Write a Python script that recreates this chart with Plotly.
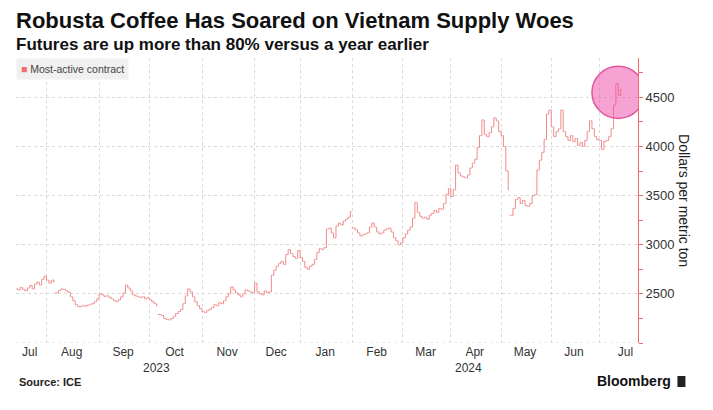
import pandas as pd
import plotly.graph_objects as go

# ---------------- text ----------------
title = "Robusta Coffee Has Soared on Vietnam Supply Woes"
subtitle = "Futures are up more than 80% versus a year earlier"
series_name = "Most-active contract"
y_title = "Dollars per metric ton"
source_text = "Source: ICE"
brand_text = "Bloomberg"

# ---------------- calendar ----------------
holidays = ["2023-08-28", "2023-12-25", "2023-12-26", "2024-01-01",
            "2024-03-29", "2024-04-01", "2024-05-06", "2024-05-27"]
start_date = "2023-07-13"
end_date = "2024-07-12"
calendar_end = "2024-07-31"

# ---------------- daily closes (USD / metric ton) ----------------
close_jul23 = [2550, 2540, 2565, 2545, 2530, 2560, 2585, 2550, 2600, 2620, 2590, 2650, 2680]
close_aug23 = [2640, 2610, 2640, 2620, 2510, 2535, 2550, 2545, 2530, 2515, 2470, 2430,
               2390, 2370, 2370, 2380, 2375, 2385, 2395, 2400, 2420, 2450]
close_sep23 = [2500, 2490, 2475, 2480, 2465, 2450, 2430, 2420, 2440, 2470, 2510, 2590,
               2560, 2530, 2490, 2480, 2470, 2465, 2470, 2450, 2460]
close_oct23 = [2440, 2420, 2400, 2380, 2290, 2280, 2250, 2240, 2235, 2250, 2270, 2300,
               2320, 2340, 2400, 2480, 2550, 2520, 2470, 2420, 2380, 2350]
close_nov23 = [2320, 2310, 2330, 2345, 2360, 2390, 2380, 2410, 2400, 2430, 2470, 2500,
               2570, 2540, 2510, 2490, 2470, 2500, 2540, 2530, 2520, 2510]
close_dec23 = [2610, 2520, 2500, 2490, 2530, 2510, 2520, 2690, 2740, 2780, 2810, 2830,
               2800, 2900, 2950, 2910, 2880, 2860, 2940]
close_jan24 = [2870, 2830, 2770, 2750, 2780, 2800, 2850, 2920, 2960, 2950, 2970, 3160,
               3170, 3120, 3070, 3190, 3220, 3200, 3240, 3260, 3280, 3340]
close_feb24 = [3170, 3150, 3120, 3090, 3100, 3110, 3120, 3180, 3220, 3180, 3130, 3110,
               3120, 3150, 3160, 3170, 3130, 3070, 3040, 3000, 3020]
close_mar24 = [3070, 3110, 3150, 3180, 3270, 3430, 3330, 3290, 3270, 3280, 3260, 3300,
               3320, 3350, 3330, 3370, 3360, 3420, 3510, 3570]
close_apr24 = [3490, 3560, 3810, 3730, 3700, 3690, 3680, 3710, 3780, 3830, 3870, 3990,
               4110, 4270, 4120, 4100, 4140, 4200, 4290, 4260, 4150]
close_may24 = [4110, 4000, 3750, 3560, 3300, 3370, 3460, 3480, 3420, 3450, 3400, 3390,
               3420, 3500, 3510, 3760, 3860, 3940, 4070, 4330, 4370]
close_jun24 = [4200, 4100, 4150, 4180, 4370, 4150, 4100, 4060, 4110, 4050, 4080, 4010,
               4040, 4000, 4060, 4150, 4260, 4180, 4100, 4070]
close_jul24 = [4060, 3970, 4050, 4060, 4100, 4180, 4420, 4640, 4520, 4580]

# first sessions after a switch of the most-active contract
roll_days = ["2023-08-07", "2023-10-06", "2024-02-01", "2024-05-08"]

# ---------------- axis values ----------------
y_ticks = [2000, 2500, 3000, 3500, 4000, 4500]
y_ticktext = ["", "2500", "3000", "3500", "4000", "4500"]
y_minor_ticks = [2250, 2750, 3250, 3750, 4250, 4750]
y_range = [2000, 4900]
month_abbr = ["Jan", "Feb", "Mar", "Apr", "May", "Jun",
              "Jul", "Aug", "Sep", "Oct", "Nov", "Dec"]

# ---------------- style ----------------
bar_color = "#f08a8a"
axis_red = "#f06a6a"
grid_color = "#dadada"
text_color = "#333333"
font_family = "Liberation Sans, Arial, sans-serif"
axis_pad_sessions = 7
highlight_radius_sessions = 11
highlight_radius_value = 265

# ---------------- build data ----------------
closes = (close_jul23 + close_aug23 + close_sep23 + close_oct23 + close_nov23 +
          close_dec23 + close_jan24 + close_feb24 + close_mar24 + close_apr24 +
          close_may24 + close_jun24 + close_jul24)
dates = pd.bdate_range(start_date, end_date, freq="C", holidays=holidays)
assert len(dates) == len(closes), (len(dates), len(closes))

roll_set = set(pd.to_datetime(roll_days))
opens = []
for k, (d, c) in enumerate(zip(dates, closes)):
    if k == 0 or d in roll_set:
        opens.append(c)
    else:
        opens.append(closes[k - 1])
highs = [max(o, c) for o, c in zip(opens, closes)]
lows = [min(o, c) for o, c in zip(opens, closes)]

cal = pd.bdate_range("2023-07-01", calendar_end, freq="C", holidays=holidays)
cal_list = list(cal)
i_first = cal_list.index(dates[0])
i_last = cal_list.index(dates[-1])
i_end = i_last + axis_pad_sessions
x_start = dates[0] + pd.Timedelta(hours=6)
x_end = cal_list[i_end] + pd.Timedelta(hours=6)


def pos_to_date(p):
    base = int(p)
    frac = p - base
    return cal_list[base] + pd.Timedelta(hours=24 * frac)


# month tick labels (centred in each month's sessions) and month-start grid lines
tick_vals, tick_text, month_starts = [], [], []
periods = sorted(set((d.year, d.month) for d in cal_list))
for (yr, mo) in periods:
    idx = [k for k, d in enumerate(cal_list) if d.year == yr and d.month == mo]
    visible = [k for k in idx if k >= i_first]
    if not visible:
        continue
    use = visible if idx[0] < i_first else idx
    tick_vals.append(pos_to_date(sum(use) / len(use)))
    tick_text.append(month_abbr[mo - 1])
    if idx[0] > i_first:
        month_starts.append(cal_list[idx[0]])

# year labels centred under each year's visible span
year_labels = []
for yr in sorted(set(d.year for d in dates)):
    idx = [k for k, d in enumerate(cal_list) if d.year == yr and i_first <= k <= i_end]
    year_labels.append((str(yr), pos_to_date(sum(idx) / len(idx))))

# highlight circle around the latest sessions
i_hi = i_last - 1
hi_center_value = (closes[-1] + closes[-2]) / 2

# ---------------- figure ----------------
fig = go.Figure()
fig.add_trace(go.Ohlc(
    x=dates, open=opens, high=highs, low=lows, close=closes,
    increasing=dict(line=dict(color=bar_color, width=1)),
    decreasing=dict(line=dict(color=bar_color, width=1)),
    tickwidth=0.45, name=series_name, showlegend=False, hoverinfo="x+y",
))

fig.add_shape(
    type="circle", xref="x", yref="y",
    x0=cal_list[i_hi - highlight_radius_sessions], x1=cal_list[i_hi + highlight_radius_sessions],
    y0=hi_center_value - highlight_radius_value, y1=hi_center_value + highlight_radius_value,
    fillcolor="rgba(238, 70, 165, 0.5)", line=dict(color="#e4559f", width=1.5), layer="above",
)

# page body has an 8px margin: the figure is sized and offset to compensate
PAGE_OFFSET = 8
W, H = 713 - PAGE_OFFSET, 410 - PAGE_OFFSET
plot_left, plot_right, plot_top, plot_bottom = 16, 637.6, 58, 343   # page pixels
ml = plot_left - PAGE_OFFSET
mt = plot_top - PAGE_OFFSET
mr = 713 - plot_right
mb = 410 - plot_bottom
pw = plot_right - plot_left
ph = plot_bottom - plot_top


def px_x(x):
    return (x - plot_left) / pw


def px_y(y):
    return (plot_bottom - y) / ph


annotations = [
    dict(text="<b>" + title + "</b>", x=px_x(14), y=px_y(20), xanchor="left", yanchor="middle",
         font=dict(size=22, color="#111111", family=font_family)),
    dict(text="<b>" + subtitle + "</b>", x=px_x(14), y=px_y(44), xanchor="left", yanchor="middle",
         font=dict(size=17, color="#111111", family=font_family)),
    dict(text="<span style='color:#f26d6d'>■</span> " + series_name, x=0, y=1,
         xanchor="left", yanchor="top", bgcolor="#f0f0f0", borderpad=4,
         font=dict(size=10.5, color="#444444", family=font_family)),
    dict(text=y_title, x=px_x(684), y=0.5, textangle=90, xanchor="center", yanchor="middle",
         font=dict(size=14, color="#222222", family=font_family)),
    dict(text="<b>" + source_text + "</b>", x=px_x(17), y=px_y(382), xanchor="left", yanchor="middle",
         font=dict(size=11, color="#222222", family=font_family)),
    dict(text="<b>" + brand_text + "</b>", x=px_x(673), y=px_y(381), xanchor="right", yanchor="middle",
         font=dict(size=14, color="#111111", family=font_family)),
]
for (txt, xd) in year_labels:
    annotations.append(dict(text=txt, x=xd, xref="x", y=px_y(368), yref="paper",
                            xanchor="center", yanchor="middle", showarrow=False,
                            font=dict(size=12, color=text_color, family=font_family)))
for a in annotations:
    a.setdefault("xref", "paper")
    a.setdefault("yref", "paper")
    a.setdefault("showarrow", False)

# small logo block after the brand name
fig.add_shape(type="rect", xref="paper", yref="paper",
              x0=px_x(677), x1=px_x(685), y0=px_y(387), y1=px_y(376),
              fillcolor="#222222", line=dict(width=0))
# dotted base line at the bottom of the plot
fig.add_shape(type="line", xref="paper", yref="y", x0=0, x1=1, y0=y_range[0], y1=y_range[0],
              line=dict(color=grid_color, width=1, dash="dot"), layer="below")

fig.update_layout(
    width=W, height=H, margin=dict(l=ml, r=mr, t=mt, b=mb, autoexpand=False),
    paper_bgcolor="white", plot_bgcolor="white",
    font=dict(family=font_family, color=text_color),
    annotations=annotations, showlegend=False,
    xaxis=dict(
        type="date", range=[x_start, x_end],
        rangebreaks=[dict(bounds=["sat", "mon"]), dict(values=holidays)],
        tickmode="array", tickvals=tick_vals, ticktext=tick_text,
        ticks="", showgrid=False, showline=False, zeroline=False,
        tickfont=dict(size=12, color=text_color),
        minor=dict(tickmode="array", tickvals=month_starts, showgrid=True,
                   gridcolor=grid_color, griddash="dot", gridwidth=1, ticks=""),
        rangeslider=dict(visible=False),
    ),
    yaxis=dict(
        side="right", range=y_range, tickmode="array", tickvals=y_ticks, ticktext=y_ticktext,
        ticks="outside", ticklen=4, tickcolor=axis_red, tickwidth=1,
        showline=True, linecolor=axis_red, linewidth=1,
        showgrid=True, gridcolor=grid_color, griddash="dot", gridwidth=1, zeroline=False,
        tickfont=dict(size=13, color=text_color),
        minor=dict(tickmode="array", tickvals=y_minor_ticks, ticks="outside", ticklen=4,
                   tickcolor=axis_red, showgrid=False),
    ),
)

fig.write_html("out.html")
